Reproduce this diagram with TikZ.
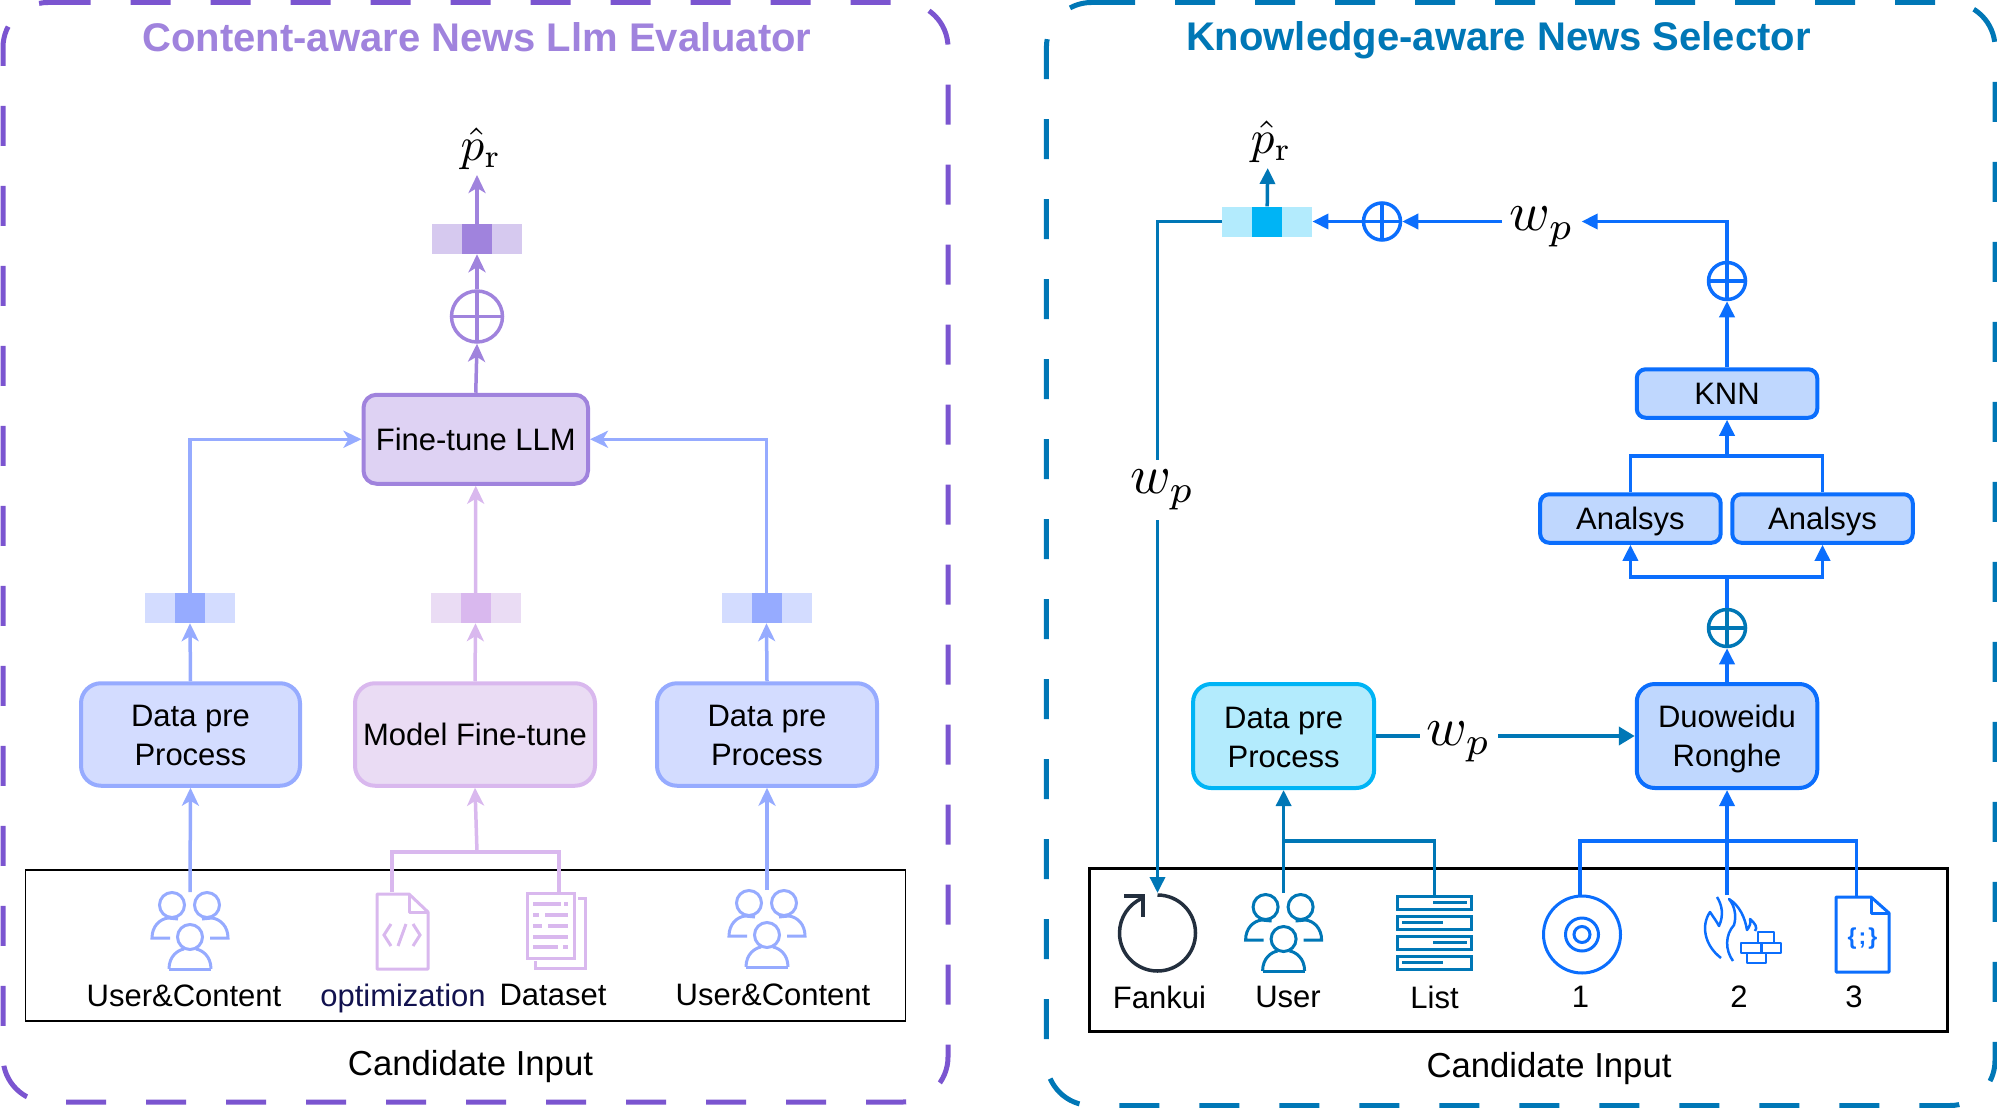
\documentclass[tikz,border=0pt]{standalone}
\usepackage[no-math]{fontspec}
\setmainfont{Liberation Sans}
\usetikzlibrary{arrows.meta,calc}
\definecolor{pDash}{HTML}{7B55D0}
\definecolor{pMain}{HTML}{A083DD}
\definecolor{pFill}{HTML}{DED2F3}
\definecolor{pLite}{HTML}{D6C9EF}
\definecolor{bMain}{HTML}{96ABFF}
\definecolor{bFill}{HTML}{D3DCFF}
\definecolor{mMain}{HTML}{D9B8EE}
\definecolor{mFill}{HTML}{EADCF4}
\definecolor{tMain}{HTML}{0077B6}
\definecolor{cMain}{HTML}{00B4F5}
\definecolor{cFill}{HTML}{B3EBFD}
\definecolor{kMain}{HTML}{0B6EFD}
\definecolor{kFill}{HTML}{BFD7FE}
\definecolor{navy}{HTML}{12124F}
\definecolor{slate}{HTML}{232F3E}
\tikzset{
  x=1pt,y=-1pt,
  panel/.style={line width=5pt,dash pattern=on 40pt off 40pt,rounded corners=45pt},
  titletext/.style={font=\fontsize{40}{46}\selectfont\bfseries},
  captext/.style={font=\fontsize{34.7}{40}\selectfont},
  lab/.style={font=\fontsize{31}{39}\selectfont,inner sep=0pt},
  boxn/.style={draw,line width=4pt,rounded corners=#1,align=center,font=\fontsize{31}{39}\selectfont,inner sep=0pt},
  vecl/.style={minimum width=90pt,minimum height=30pt,inner sep=0pt,fill=#1},
  vecd/.style={minimum width=30pt,minimum height=30pt,inner sep=0pt,fill=#1},
  oplus/.style={circle,draw,line width=3.5pt,inner sep=0pt,minimum size=#1,
    path picture={\draw[line width=3.5pt] (path picture bounding box.north)--(path picture bounding box.south)
      (path picture bounding box.west)--(path picture bounding box.east);}},
  stl/.style={line width=3.5pt,draw=#1,-{Stealth[length=18pt,width=17pt,inset=5pt]}},
  tri/.style={line width=3.5pt,draw=#1,-{Triangle[length=16pt,width=15pt]}},
  busline/.style={line width=3.5pt,draw=#1},
  wnode/.style={fill=white,inner sep=0pt,font=\fontsize{10}{12}\selectfont},
}
\newcommand{\peopleicon}[3]{\begin{scope}[shift={(#1,#2)},draw=#3,line width=3pt]
  \draw (-18,13) circle[radius=12.5pt];
  \draw (17,13) circle[radius=12.5pt];
  \draw (0,45) circle[radius=12.5pt];
  \draw (-21,77) .. controls (-21,64) and (-12,58) .. (-6,57) (6,57) .. controls (12,58) and (21,64) .. (21,77);
  \draw (-21,77) -- (21,77);
  \draw (-20,46) -- (-38,46) .. controls (-38,34) and (-30,27) .. (-22,26) -- (-12,27);
  \draw (20,46) -- (38,46) .. controls (38,34) and (30,27) .. (22,26) -- (12,27);
\end{scope}}
\begin{document}
\begin{tikzpicture}
\useasboundingbox (0,0) rectangle (1997,1108);
% panels
\draw[panel,draw=pDash] (50.7,2.5) -- (948,2.5) -- (948,1102) -- (3,1102) -- (3,2.5) -- (50.7,2.5);
\draw[panel,draw=tMain] (1095,2.5) -- (1995,2.5) -- (1995,1105.5) -- (1046.4,1105.5) -- (1046.4,2.5) -- (1095,2.5);
\node[titletext,text=pMain] (titleL) at (477,37) {Content-aware News Llm Evaluator};
\node[titletext,text=tMain] (titleR) at (1498.4,40.5) {Knowledge-aware News Selector};
% input frames
\node[draw=black,line width=1.5pt,minimum width=880pt,minimum height=151pt,inner sep=0pt] (frameL) at (465.5,945.5) {};
\node[draw=black,line width=3pt,minimum width=858pt,minimum height=163pt,inner sep=0pt] (frameR) at (1518,949.5) {};
\node[captext] (capL) at (470.5,1066.5) {Candidate Input};
\node[captext] (capR) at (1549,1068.5) {Candidate Input};
% LEFT
\node[boxn=13pt,draw=pMain,fill=pFill,minimum width=224.5pt,minimum height=89pt] (llm) at (475.75,439.25) {Fine-tune LLM};
\node[boxn=20pt,draw=bMain,fill=bFill,minimum width=219pt,minimum height=102.5pt] (dataA) at (190.5,734.5) {\rule{0pt}{23.5pt}Data pre\\Process};
\node[boxn=20pt,draw=mMain,fill=mFill,minimum width=240pt,minimum height=102.5pt] (model) at (475,734.5) {Model Fine-tune};
\node[boxn=20pt,draw=bMain,fill=bFill,minimum width=220pt,minimum height=102.5pt] (dataB) at (767,734.5) {\rule{0pt}{23.5pt}Data pre\\Process};
\node[vecl=pLite] (vTop) at (477,239) {};
\node[vecd=pMain] (vTopD) at (477,239) {};
\node[vecl=bFill] (vA) at (190,608) {};
\node[vecd=bMain] (vAD) at (190,608) {};
\node[vecl=mFill] (vM) at (475.5,608) {};
\node[vecd=mMain] (vMD) at (475.5,608) {};
\node[vecl=bFill] (vB) at (766.5,608) {};
\node[vecd=bMain] (vBD) at (766.5,608) {};
\node[oplus=51pt,draw=pMain] (plusT) at (477,316.5) {};
\node[inner sep=0pt,scale=4.7] (prL) at (481,149) {$\hat{p}_{\mathrm{r}}$};
\coordinate (prLt) at (477,175);
\coordinate (upA) at (190,892);
\coordinate (upB) at (767,890);
\coordinate (jM) at (477,852);
\coordinate (docT) at (392,892);
\coordinate (setT) at (559,892);
\draw[stl=pMain] (vTop.north) -- (prLt);
\draw[stl=pMain] (plusT.north) -- (vTop.south);
\draw[stl=pMain] (llm.north) -- (plusT.south);
\draw[stl=bMain] (vA.north) |- (llm.west);
\draw[stl=bMain] (vB.north) |- (llm.east);
\draw[stl=mMain] (vM.north) -- (llm.south);
\draw[stl=bMain] (dataA.north) -- (vA.south);
\draw[stl=mMain] (model.north) -- (vM.south);
\draw[stl=bMain] (dataB.north) -- (vB.south);
\draw[stl=bMain] (upA) -- (dataA.south);
\draw[stl=bMain] (upB) -- (dataB.south);
\draw[stl=mMain] (jM) -- (model.south);
\draw[busline=mMain] (docT) |- (jM) -| (setT);
\peopleicon{190}{892}{bMain}
\peopleicon{767}{890}{bMain}
% doc icon (pink)
\begin{scope}[draw=mMain,line width=3pt]
  \draw[line join=round] (377,894) -- (409,894) -- (428,912) -- (428,969) -- (377,969) -- cycle;
  \draw[line join=round] (409,894) -- (409,912) -- (428,912);
  \draw (391,924) -- (384,935) -- (391,946);
  \draw (413,924) -- (420,935) -- (413,946);
  \draw (406,924) -- (398,946);
  % dataset icon
  \draw (527,893) rectangle (574,958);
  \draw (578,898) -- (585,898) -- (585,968) -- (535,968) -- (535,961);
  \draw[line width=3.5pt] (533,904) -- (561,904) (564,904) -- (568,904);
  \draw[line width=3.5pt] (533,915) -- (539,915) (545,915) -- (568,915);
  \draw[line width=3.5pt] (533,926) -- (542,926) (548,926) -- (568,926);
  \draw[line width=3.5pt] (533,937) -- (568,937);
  \draw[line width=3.5pt] (533,947) -- (558,947) (563,947) -- (568,947);
\end{scope}
\node[lab] (uA) at (184,996) {User\&Content};
\node[lab,text=navy] (opt) at (403,998) {optimization};
\node[lab] (ds) at (553,995) {Dataset};
\node[lab] (uB) at (773,995) {User\&Content};
% RIGHT
\node[boxn=9pt,draw=kMain,fill=kFill,minimum width=180.5pt,minimum height=48.5pt] (knn) at (1727,393.5) {KNN};
\node[boxn=9pt,draw=kMain,fill=kFill,minimum width=180.5pt,minimum height=48.5pt,text height=27.5pt] (anA) at (1630.4,518.5) {Analsys};
\node[boxn=9pt,draw=kMain,fill=kFill,minimum width=180.5pt,minimum height=48.5pt,text height=27.5pt] (anB) at (1822.5,518.5) {Analsys};
\node[boxn=18pt,draw=kMain,fill=kFill,minimum width=180.5pt,minimum height=104pt] (duo) at (1727,736) {\rule{0pt}{28pt}Duoweidu\\Ronghe};
\node[boxn=18pt,draw=cMain,fill=cFill,minimum width=181pt,minimum height=104pt] (dataC) at (1283.6,736) {\rule{0pt}{24.5pt}Data pre\\Process};
\node[vecl=cFill] (vR) at (1267.2,221.5) {};
\node[vecd=cMain] (vRD) at (1267.2,221.5) {};
\node[oplus=37pt,draw=kMain] (plusH) at (1382,221.5) {};
\node[oplus=37pt,draw=kMain] (plusK) at (1727,281) {};
\node[oplus=37pt,draw=tMain] (plusD) at (1727,628) {};
\node[inner sep=0pt,scale=4.7] (prR) at (1271.2,142) {$\hat{p}_{\mathrm{r}}$};
\coordinate (prRt) at (1267.7,168);
\coordinate (jK) at (1727,456);
\coordinate (jD) at (1727,577);
\coordinate (fkT) at (1157.5,893);
\coordinate (uT) at (1283.6,893);
\coordinate (liT) at (1434.3,895);
\coordinate (oneT) at (1580,897);
\coordinate (twoT) at (1727,895);
\coordinate (thrT) at (1856.4,897);
\coordinate (jU) at (1283.6,841);
\coordinate (jT) at (1727,841);
\node[wnode,minimum width=79pt,minimum height=50pt] (wpH) at (1541.9,227) {\scalebox{5.5}{$w_p$}};
\draw[tri=tMain] (vR.north) -- (prRt);
\draw[tri=kMain] (plusH.west) -- (vR.east);
\draw[tri=kMain] (wpH.west |- plusH.east) -- (plusH.east);
\draw[tri=kMain] (plusK.north) |- (wpH.east |- plusH.east);
\draw[tri=kMain] (knn.north) -- (plusK.south);
\draw[tri=kMain] (jK) -- (knn.south);
\draw[busline=kMain] (anA.north) |- (jK) -| (anB.north);
\draw[tri=kMain] (jD) -| (anA.south);
\draw[tri=kMain] (jD) -| (anB.south);
\draw[busline=kMain] (plusD.north) -- (jD);
\draw[tri=kMain] (duo.north) -- (plusD.south);
\draw[line width=4pt,draw=tMain,-{Triangle[length=16pt,width=18pt]}] (dataC.east) -- (duo.west);
\draw[tri=tMain] (uT) -- (dataC.south);
\draw[busline=tMain] (jU) -| (liT);
\draw[tri=kMain] (twoT) -- (duo.south);
\draw[busline=kMain] (oneT) |- (jT) -| (thrT);
\draw[tri=tMain] (vR.west) -| (fkT);
\node[wnode,minimum width=64pt,minimum height=60pt] (wpV) at (1162.5,490) {\scalebox{5.5}{$w_p$}};
\node[wnode,minimum width=78pt,minimum height=56pt] (wpD) at (1458.6,742) {\scalebox{5.5}{$w_p$}};
% Fankui icon
\begin{scope}[draw=slate,line width=3.5pt]
  \draw (1157.5,895) arc[start angle=90,end angle=-247,radius=38pt];
  \draw (1124,896) -- (1143,896) -- (1143,917);
\end{scope}
\peopleicon{1283.6}{894}{tMain}
% list icon
\begin{scope}[draw=tMain,line width=3pt]
  \foreach \yy in {896,916,936,956} \draw (1397,\yy) rectangle (1471.5,\yy+13);
  \draw (1433,902.5) -- (1467,902.5);
  \draw (1402,922.5) -- (1443,922.5);
  \draw (1433,942.5) -- (1467,942.5);
  \draw (1402,962.5) -- (1443,962.5);
\end{scope}
% disc icon
\begin{scope}[draw=kMain,line width=3pt]
  \draw (1582,934.5) circle[radius=38.5pt];
  \draw (1582,934.5) circle[radius=16.5pt];
  \draw (1582,934.5) circle[radius=8pt];
\end{scope}
% flame and bricks icon
\begin{scope}[shift={(-2,0)},draw=kMain,line width=2.5pt,line join=round]
  \draw (1723,958) .. controls (1706,945) and (1703,925) .. (1712,912) .. controls (1716,918) and (1719,922) .. (1721,926) .. controls (1726,915) and (1724,905) .. (1719,897);
  \draw (1735,961) .. controls (1727,950) and (1727,935) .. (1736,925) .. controls (1739,915) and (1736,905) .. (1731,899) .. controls (1742,906) and (1747,918) .. (1749,930) .. controls (1752,926) and (1753,923) .. (1752,919) .. controls (1757,923) and (1760,928) .. (1757,931);
  \draw (1760,932) rectangle (1776,943);
  \draw (1743,943) rectangle (1763.5,953);
  \draw (1763.5,943) rectangle (1783,953);
  \draw (1749,953) rectangle (1768,963);
\end{scope}
% code file icon
\begin{scope}[draw=kMain,line width=3pt]
  \draw[line join=round] (1836,897) -- (1871,897) -- (1889,913) -- (1889,972) -- (1836,972) -- cycle;
  \draw[line join=round] (1871,897) -- (1871,913) -- (1889,913);
\end{scope}
\node[inner sep=0pt,text=kMain,font=\fontsize{23}{25}\selectfont\bfseries] (code) at (1862.5,939) {\{\hspace{2pt};\hspace{2pt}\}};
\node[lab] (fk) at (1159.5,997) {Fankui};
\node[lab] (us) at (1288,997) {User};
\node[lab] (li) at (1434.5,997) {List};
\node[lab] (n1) at (1580.5,997) {1};
\node[lab] (n2) at (1739,997) {2};
\node[lab] (n3) at (1854,997) {3};
\end{tikzpicture}
\end{document}
